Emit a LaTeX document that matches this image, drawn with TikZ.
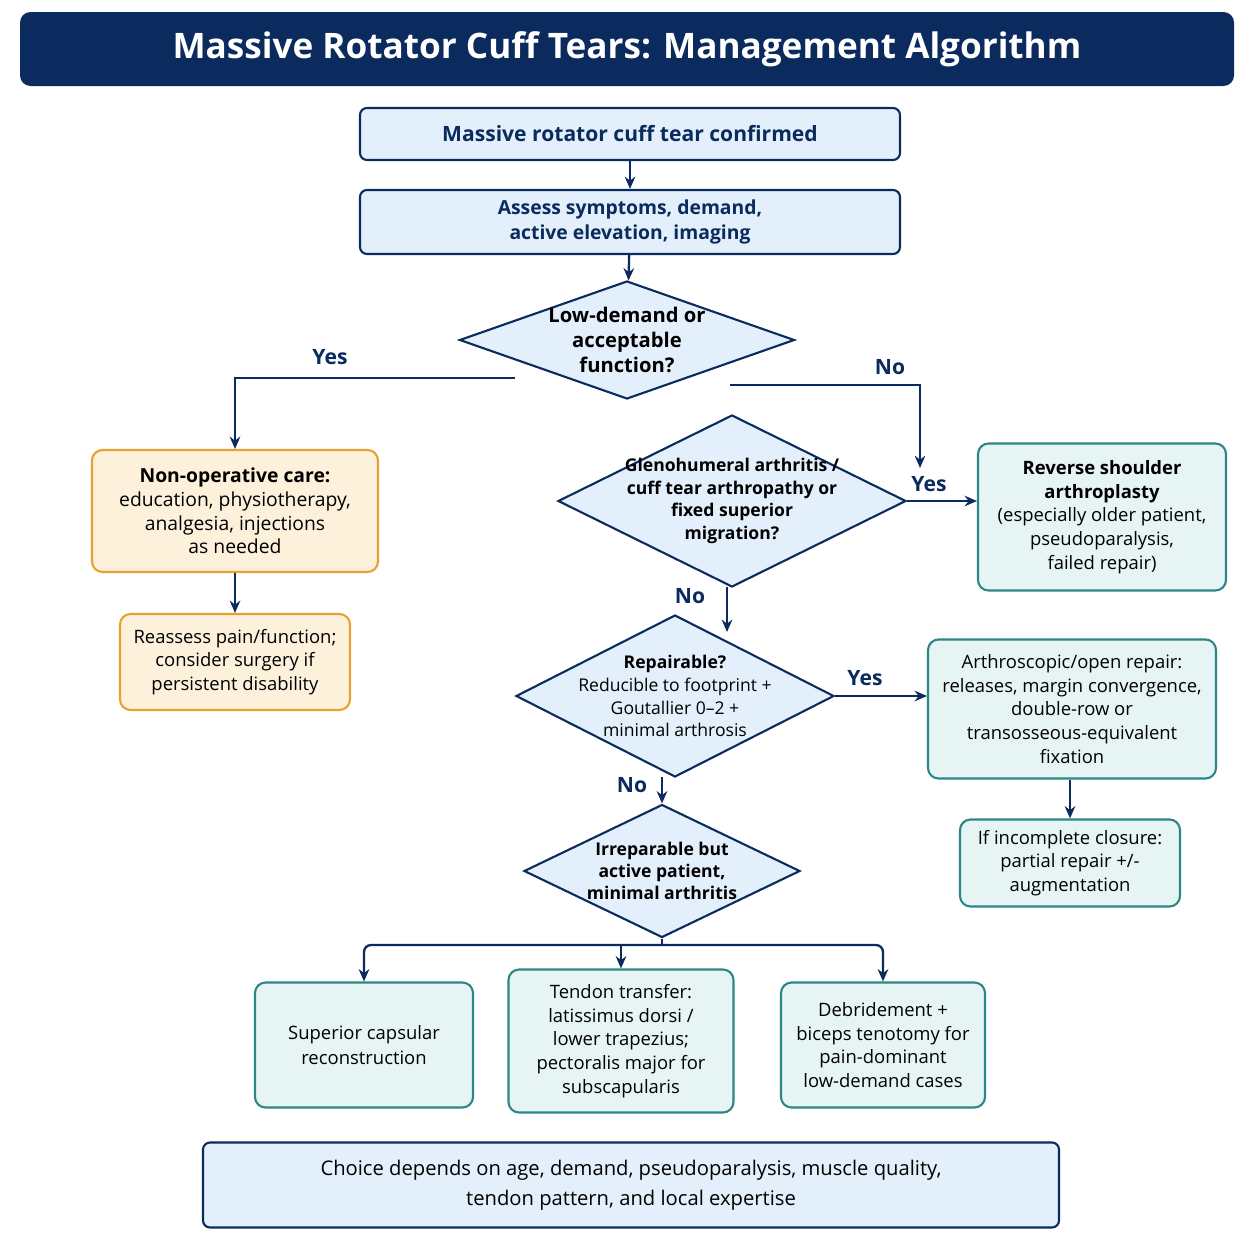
\documentclass[tikz,border=0pt]{standalone}
\usepackage{fontspec}
\setmainfont{Open Sans}
\usetikzlibrary{arrows.meta,shapes.geometric}
\definecolor{navy}{HTML}{0B2A5E}
\definecolor{bluefill}{HTML}{E3F0FC}
\definecolor{orline}{HTML}{E8A030}
\definecolor{orfill}{HTML}{FDF1DC}
\definecolor{tealline}{HTML}{2E8585}
\definecolor{tealfill}{HTML}{E6F4F4}
\begin{document}
\begin{tikzpicture}
                [x=0.02cm,y=-0.02cm,
                 size/.style 2 args={minimum width=#1*0.02cm,minimum height=#2*0.02cm},
                 blue box/.style={rectangle,rounded corners=4pt,draw=navy,fill=bluefill,line width=1.2pt,text=navy,align=center,inner sep=0pt},
                 orange box/.style={rectangle,rounded corners=6pt,draw=orline,fill=orfill,line width=1.2pt,text=black,align=center,inner sep=0pt},
                 teal box/.style={rectangle,rounded corners=6pt,draw=tealline,fill=tealfill,line width=1.2pt,text=black,align=center,inner sep=0pt},
                 decision/.style={diamond,draw=navy,fill=bluefill,line width=1.2pt,inner sep=0pt},
                 query/.style={label={[align=center,text=black,font=#1]center:}},
                 answer/.style={text=navy,font=\fontsize{12}{14}\selectfont\bfseries},
                 post/.style={-{Stealth[length=7pt,width=6pt]},line width=1.3pt,draw=navy}]

                \useasboundingbox (0,0) rectangle (1254,1254);

                \node[rectangle,rounded corners=6pt,fill=navy,text=white,size={1214}{74},font=\fontsize{20}{24}\selectfont\bfseries] (title) at (627,49) {Massive Rotator Cuff Tears: Management Algorithm};

                \node[blue box,size={540}{52},font=\fontsize{12}{14}\selectfont\bfseries] (confirmed) at (630,134) {Massive rotator cuff tear confirmed};
                \node[blue box,size={540}{64},font=\fontsize{11}{14}\selectfont\bfseries] (assess) at (630,222) {Assess symptoms, demand,\\active elevation, imaging};

                \node[decision,size={335}{118},label={[align=center,font=\fontsize{11.5}{14}\selectfont\bfseries]center:Low-demand or\\acceptable\\function?}] (lowdemand) at (627,340) {};
                \node[decision,size={348}{172},label={[align=center,font=\fontsize{10}{13}\selectfont\bfseries]center:Glenohumeral arthritis /\\cuff tear arthropathy or\\fixed superior\\migration?}] (arthritis) at (732,501) {};
                \node[decision,size={318}{162},label={[align=center,font=\fontsize{10}{13}\selectfont]center:\textbf{Repairable?}\\Reducible to footprint +\\Goutallier 0--2 +\\minimal arthrosis}] (repairable) at (675,696) {};
                \node[decision,size={276}{133},label={[align=center,font=\fontsize{10}{12.5}\selectfont\bfseries]center:Irreparable but\\active patient,\\minimal arthritis}] (irreparable) at (662,871) {};

                \node[orange box,size={286}{122},font=\fontsize{11}{13.5}\selectfont] (nonop) at (235,511) {\textbf{Non-operative care:}\\education, physiotherapy,\\analgesia, injections\\as needed};
                \node[orange box,size={230}{96},font=\fontsize{10.5}{13.5}\selectfont] (reassess) at (235,662) {Reassess pain/function;\\consider surgery if\\persistent disability};

                \node[teal box,size={248}{147},font=\fontsize{10.5}{13.5}\selectfont] (reverse) at (1102,517) {\textbf{Reverse shoulder}\\\textbf{arthroplasty}\\(especially older patient,\\pseudoparalysis,\\failed repair)};
                \node[teal box,size={288}{139},font=\fontsize{10.5}{13.5}\selectfont] (repair) at (1072,709) {Arthroscopic/open repair:\\releases, margin convergence,\\double-row or\\transosseous-equivalent\\fixation};
                \node[teal box,size={220}{87},font=\fontsize{10.5}{13.5}\selectfont] (incomplete) at (1070,863) {If incomplete closure:\\partial repair +/-\\augmentation};

                \node[teal box,size={218}{125},font=\fontsize{10.5}{14}\selectfont] (capsular) at (364,1045) {Superior capsular\\reconstruction};
                \node[teal box,size={225}{143},font=\fontsize{10.5}{13.5}\selectfont] (transfer) at (621,1041) {Tendon transfer:\\latissimus dorsi /\\lower trapezius;\\pectoralis major for\\subscapularis};
                \node[teal box,size={204}{125},font=\fontsize{10.5}{13.5}\selectfont] (debride) at (883,1045) {Debridement +\\biceps tenotomy for\\pain-dominant\\low-demand cases};

                \node[blue box,size={856}{85},font=\fontsize{11.5}{17}\selectfont,text=black] (choice) at (631,1185) {Choice depends on age, demand, pseudoparalysis, muscle quality,\\tendon pattern, and local expertise};

                % connectors
                \draw[post] (confirmed) -- (assess);
                \draw[post] (assess) -- (lowdemand);
                \draw[post] (515,378) -| (nonop.north);
                \coordinate (nodrop) at (920,468);
                \draw[post] (730,385) -| (nodrop);
                \draw[post] (nonop) -- (reassess);
                \draw[post] (arthritis.east) -- (reverse.west |- arthritis.east);
                \draw[post] (727,587) -- (727,632);
                \draw[post] (repairable.east) -- (repair.west |- repairable.east);
                \draw[post] (repair.south -| incomplete.north) -- (incomplete);
                \draw[post] (662,777) -- (irreparable.north);
                \draw[line width=1.3pt,navy,rounded corners=4pt] (irreparable.south) -- (662,945);
                \draw[post,rounded corners=4pt] (662,945) -| (capsular.north);
                \draw[post,rounded corners=4pt] (662,945) -| (debride.north);
                \draw[post] (621,945) -- (transfer.north);

                \node[answer] (yes1) at (330,357) {Yes};
                \node[answer] (no1) at (890,367) {No};
                \node[answer] (yes2) at (929,484) {Yes};
                \node[answer] (no2) at (690,596) {No};
                \node[answer] (yes3) at (865,678) {Yes};
                \node[answer] (no3) at (632,785) {No};

            \end{tikzpicture}
\end{document}
